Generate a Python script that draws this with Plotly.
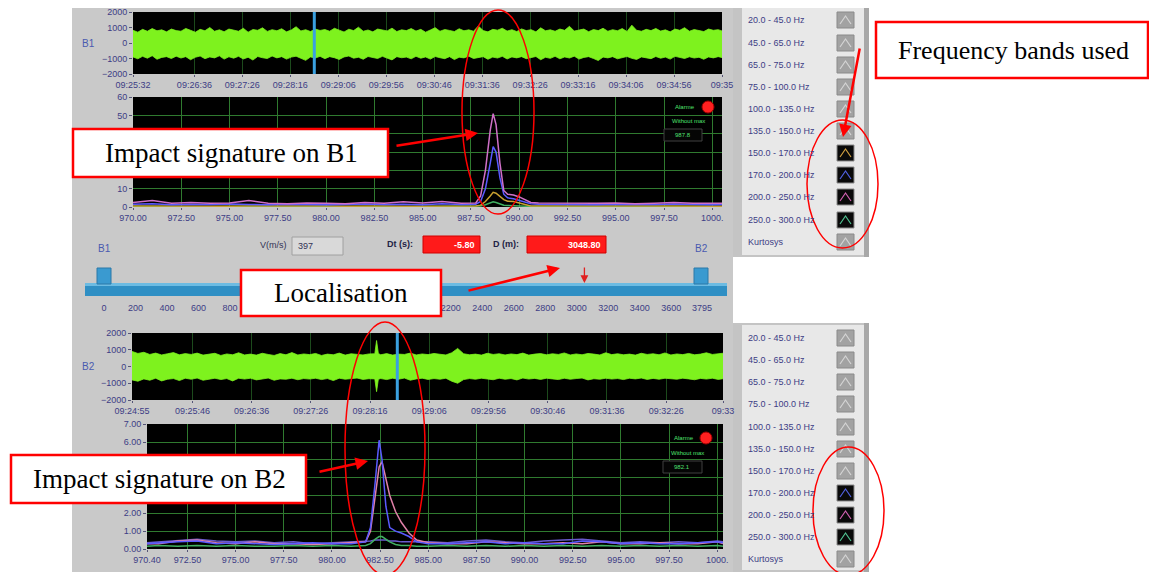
import plotly.graph_objects as go

# The page body adds an 8px offset; build the figure in reference pixel coordinates shifted by it.
OFF = 8
W, H = 1157 - OFF, 572 - OFF
def px(x): return (x - OFF) / W
def py(y): return 1 - (y - OFF) / H

# ---------------- data ----------------
# top waveform (B1) envelope, seconds from 09:25:32
top_t = [0, 5, 10, 15, 20, 25, 30, 35, 40, 45,
         50, 55, 60, 65, 70, 75, 80, 85, 90, 95,
         100, 105, 110, 115, 120, 125, 130, 135, 140, 145,
         150, 155, 160, 165, 170, 175, 180, 185, 190, 195,
         200, 205, 210, 215, 220, 225, 230, 235, 240, 245,
         250, 255, 260, 265, 270, 275, 280, 285, 290, 295,
         300, 305, 310, 315, 320, 325, 330, 335, 340, 345,
         350, 355, 360, 365, 370, 375, 380, 385, 390, 395,
         400, 405, 410, 415, 420, 425, 430, 435, 440, 445,
         450, 455, 460, 465, 470, 475, 480, 485, 490, 495,
         500, 505, 510, 515, 520, 525, 530, 535, 540, 545,
         550, 555, 560, 565, 570, 575, 580, 585, 590, 595,
         600, 605, 610, 614]
top_upper = [820, 700, 880, 760, 930, 790, 850, 720, 900, 800,
             760, 940, 820, 700, 880, 790, 1000, 760, 850, 730,
             900, 810, 760, 950, 700, 870, 820, 980, 750, 860,
             790, 920, 720, 840, 1050, 780, 860, 740, 900, 810,
             870, 760, 950, 830, 710, 890, 800, 1020, 760, 840,
             720, 900, 820, 780, 960, 740, 850, 800, 930, 770,
             880, 700, 840, 990, 760, 870, 810, 740, 920, 790,
             850, 760, 1100, 800, 720, 880, 830, 950, 770, 860,
             740, 910, 800, 860, 720, 980, 790, 850, 760, 900,
             820, 1080, 770, 840, 900, 730, 870, 800, 950, 760,
             860, 790, 930, 740, 1150, 820, 760, 880, 800, 940,
             770, 850, 720, 900, 820, 990, 760, 870, 810, 740,
             900, 820, 860, 780]
top_lower = [-900, -1020, -860, -980, -820, -1050, -930, -880, -1000, -850,
             -970, -880, -1080, -920, -840, -1010, -900, -960, -830, -1040,
             -890, -980, -860, -1030, -920, -1100, -870, -950, -1000, -840,
             -960, -880, -1040, -910, -850, -990, -1120, -900, -970, -860,
             -1010, -880, -950, -1060, -900, -840, -980, -920, -1050, -870,
             -930, -1000, -860, -970, -1090, -880, -950, -910, -1020, -860,
             -980, -900, -1040, -870, -950, -1010, -880, -1070, -920, -960,
             -850, -1000, -930, -880, -1050, -910, -970, -860, -1030, -900,
             -960, -880, -1010, -940, -870, -1080, -920, -990, -860, -1020,
             -900, -970, -850, -1040, -930, -880, -1000, -1130, -910, -960,
             -880, -1020, -940, -870, -990, -1060, -900, -950, -1010, -870,
             -980, -910, -1040, -860, -950, -1000, -890, -970, -920, -1050,
             -900, -960, -880, -940]
top_tick_t = [0, 64, 114, 164, 214, 264, 314, 364, 414, 464, 514, 564, 614]
top_tick_lbl = ["09:25:32", "09:26:36", "09:27:26", "09:28:16", "09:29:06", "09:29:56",
                "09:30:46", "09:31:36", "09:32:26", "09:33:16", "09:34:06", "09:34:56", "09:35"]
top_cursor_t = 189

# bottom waveform (B2) envelope, seconds from 09:24:55
bot_t = [0, 5, 10, 15, 20, 25, 30, 35, 40, 45,
         50, 55, 60, 65, 70, 75, 80, 85, 90, 95,
         100, 105, 110, 115, 120, 125, 130, 135, 140, 145,
         150, 155, 160, 165, 170, 175, 180, 185, 190, 195,
         200, 205, 206.5, 208,
         210, 215, 220, 225, 230, 235, 240, 245, 250, 255,
         260, 265, 270, 275, 280, 285, 290, 295, 300, 305,
         310, 315, 320, 325, 330, 335, 340, 345, 350, 355,
         360, 365, 370, 375, 380, 385, 390, 395, 400, 405,
         410, 415, 420, 425, 430, 435, 440, 445, 450, 455,
         460, 465, 470, 475, 480, 485, 490, 495, 500]
bot_upper = [900, 780, 850, 720, 800, 690, 760, 830, 700, 770,
             720, 800, 680, 740, 790, 660, 750, 700, 820, 690,
             740, 680, 790, 720, 660, 770, 700, 830, 690, 750,
             710, 780, 660, 740, 700, 800, 680, 760, 720, 690,
             750, 760, 1550, 780,
             700, 770, 680, 740, 720, 800, 690, 750, 710, 780,
             730, 690, 820, 1080, 760, 700, 740, 680, 790, 720,
             760, 690, 750, 710, 800, 680, 740, 770, 700, 760,
             720, 810, 690, 750, 700, 780, 740, 690, 820, 710,
             760, 700, 740, 680, 790, 720, 760, 700, 810, 690,
             750, 710, 780, 700, 740, 820, 720, 760, 800]
bot_lower = [-800, -880, -740, -820, -700, -860, -760, -720, -840, -700,
             -760, -690, -820, -740, -700, -780, -720, -860, -700, -750,
             -700, -800, -730, -690, -820, -740, -760, -700, -790, -720,
             -750, -700, -780, -720, -840, -700, -760, -730, -690, -770,
             -730, -740, -1500, -760,
             -720, -780, -700, -760, -690, -820, -740, -700, -770, -720,
             -760, -700, -880, -1000, -780, -720, -760, -700, -740, -790,
             -700, -760, -720, -800, -690, -750, -710, -770, -700, -740,
             -780, -700, -760, -720, -690, -800, -730, -760, -700, -750,
             -720, -780, -700, -740, -690, -770, -710, -760, -700, -730,
             -760, -700, -740, -790, -710, -750, -700, -770, -720]
bot_tick_t = [0, 51, 101, 151, 201, 251, 301, 351, 401, 451, 499]
bot_tick_lbl = ["09:24:55", "09:25:46", "09:26:36", "09:27:26", "09:28:16", "09:29:06",
                "09:29:56", "09:30:46", "09:31:36", "09:32:26", "09:33"]
bot_cursor_t = 224

# top spectrum (B1)
spec1_x = [970, 971, 972, 973, 974, 975, 976, 977, 978, 979, 980, 981, 982, 983, 984, 985, 986, 987,
           987.75, 988.0, 988.25, 988.5, 988.65, 988.8, 989.0, 989.2, 989.4, 989.7, 990.0, 990.3, 990.6,
           991, 992, 993, 994, 995, 996, 997, 998, 999, 1000, 1000.5]
spec1_mag = [2.5, 3.5, 2.0, 2.5, 2.0, 2.2, 3.5, 2.0, 1.8, 2.2, 2.0, 1.8, 2.5, 2.0, 2.8, 2.2, 3.0, 2.0,
             2.2, 6, 20, 42, 51, 45, 24, 9, 7, 6.5, 5.5, 4, 2.5,
             2.2, 2.0, 1.8, 2.0, 2.2, 1.8, 2.0, 2.4, 2.0, 1.8, 2.0]
spec1_blue = [1.5, 1.8, 1.2, 1.5, 1.3, 1.6, 1.4, 1.2, 1.5, 1.3, 1.2, 1.4, 1.6, 1.3, 1.5, 1.2, 1.8, 1.4,
              1.5, 3, 10, 24, 33, 30, 16, 7, 5, 4.5, 3.5, 2.5, 1.8,
              1.5, 1.3, 1.4, 1.2, 1.5, 1.3, 1.4, 1.6, 1.3, 1.2, 1.4]
spec1_orange = [0.6, 0.5, 0.4, 0.6, 0.5, 0.4, 0.5, 0.6, 0.4, 0.5, 0.5, 0.4, 0.6, 0.5, 0.4, 0.5, 0.6, 0.5,
                0.5, 1.0, 3, 6, 8, 7.5, 6, 4, 3.2, 3, 2.2, 1.2, 0.6,
                0.5, 0.4, 0.5, 0.6, 0.4, 0.5, 0.5, 0.4, 0.6, 0.5, 0.4]
spec1_green = [0.3, 0.2, 0.3, 0.3, 0.2, 0.3, 0.2, 0.3, 0.3, 0.2, 0.3, 0.2, 0.3, 0.3, 0.2, 0.3, 0.3, 0.2,
               0.3, 0.5, 1.2, 2.2, 2.8, 2.5, 1.8, 1.0, 0.8, 0.6, 0.5, 0.4, 0.3,
               0.3, 0.2, 0.3, 0.2, 0.3, 0.3, 0.2, 0.3, 0.2, 0.3, 0.3]
spec1_ticks = [970, 972.5, 975, 977.5, 980, 982.5, 985, 987.5, 990, 992.5, 995, 997.5, 1000]
spec1_lbl = ["970.00", "972.50", "975.00", "977.50", "980.00", "982.50", "985.00",
             "987.50", "990.00", "992.50", "995.00", "997.50", "1000."]
spec1_yticks = [0, 10, 20, 30, 40, 50, 60]
spec1_ylbl = ["0", "10", "", "", "", "50", "60"]   # 20-40 are hidden behind the annotation box

# bottom spectrum (B2)
spec2_x = [970.4, 971, 972, 973, 974, 975, 976, 977, 978, 979, 980, 981,
           981.75, 982.0, 982.25, 982.45, 982.6, 982.8, 983.0, 983.3, 983.6, 984.0, 984.4,
           985, 986, 987, 988, 989, 990, 991, 992, 993, 994, 995, 996, 997, 998, 999, 1000, 1000.3]
spec2_blue = [0.3, 0.35, 0.4, 0.45, 0.3, 0.35, 0.3, 0.25, 0.3, 0.35, 0.3, 0.3,
              0.4, 1.2, 3.8, 6.1, 5.0, 2.4, 1.2, 1.0, 0.9, 0.7, 0.4,
              0.3, 0.3, 0.35, 0.4, 0.3, 0.35, 0.3, 0.3, 0.45, 0.4, 0.3, 0.35, 0.3, 0.3, 0.35, 0.4, 0.35]
spec2_mag = [0.3, 0.3, 0.45, 0.5, 0.35, 0.3, 0.4, 0.3, 0.3, 0.25, 0.3, 0.35,
             0.4, 1.0, 3.0, 4.6, 4.9, 4.0, 3.0, 2.1, 1.5, 0.9, 0.5,
             0.35, 0.3, 0.3, 0.4, 0.35, 0.3, 0.3, 0.35, 0.3, 0.4, 0.3, 0.3, 0.35, 0.3, 0.3, 0.4, 0.3]
spec2_green = [0.15, 0.2, 0.15, 0.2, 0.15, 0.2, 0.15, 0.15, 0.2, 0.15, 0.2, 0.15,
               0.2, 0.3, 0.55, 0.7, 0.7, 0.55, 0.4, 0.25, 0.2, 0.2, 0.15,
               0.15, 0.2, 0.15, 0.2, 0.15, 0.2, 0.15, 0.2, 0.15, 0.2, 0.15, 0.2, 0.15, 0.2, 0.15, 0.2, 0.15]
spec2_purple = [0.35, 0.4, 0.5, 0.55, 0.45, 0.4, 0.45, 0.35, 0.4, 0.3, 0.35, 0.4,
                0.4, 0.45, 0.5, 0.5, 0.5, 0.5, 0.45, 0.45, 0.4, 0.4, 0.4,
                0.4, 0.35, 0.45, 0.5, 0.4, 0.35, 0.45, 0.5, 0.55, 0.45, 0.35, 0.4, 0.35, 0.4, 0.35, 0.45, 0.4]
spec2_ticks = [970.4, 972.5, 975, 977.5, 980, 982.5, 985, 987.5, 990, 992.5, 995, 997.5, 1000]
spec2_lbl = ["970.40", "972.50", "975.00", "977.50", "980.00", "982.50", "985.00",
             "987.50", "990.00", "992.50", "995.00", "997.50", "1000."]
spec2_yticks = [0, 1, 2, 3, 4, 5, 6, 7]
spec2_ylbl = ["0.00", "1.00", "2.00", "", "", "", "6.00", "7.00"]  # 3-5 hidden behind the box

# localisation slider (1000-2000 labels are hidden behind the "Localisation" box)
slider_ticks = [0, 200, 400, 600, 800, 1000, 1200, 1400, 1600, 1800, 2000, 2200,
                2400, 2600, 2800, 3000, 3200, 3400, 3600, 3795]
slider_lbl = ["0", "200", "400", "600", "800", "", "", "", "", "", "", "2200",
              "2400", "2600", "2800", "3000", "3200", "3400", "3600", "3795"]
slider_max = 3795
loc_d = 3048.8
speed = "397"
dt_txt = "-5.80"
d_txt = "3048.80"
alarm_top = "987.8"
alarm_bot = "982.1"

bands = ["20.0 - 45.0 Hz", "45.0 - 65.0 Hz", "65.0 - 75.0 Hz", "75.0 - 100.0 Hz",
         "100.0 - 135.0 Hz", "135.0 - 150.0 Hz", "150.0 - 170.0 Hz", "170.0 - 200.0 Hz",
         "200.0 - 250.0 Hz", "250.0 - 300.0 Hz", "Kurtosys"]
top_band_colors = [None, None, None, None, None, None, "#d0a040", "#5060e0", "#d060b0", "#50c090", None]
bot_band_colors = [None, None, None, None, None, None, None, "#5060e0", "#d060b0", "#50c090", None]

# ---------------- styling ----------------
TICKF = dict(family="Liberation Sans", size=9, color="#3d3d85")
GRID = "#2f7a2f"
WAVE = "#7ef21e"
C_MAG, C_BLUE, C_OR, C_GR, C_PUR = "#d070c8", "#5a5aff", "#c8a030", "#40b060", "#6a5acd"

fig = go.Figure()

def band(t, up, lo):
    n = min(len(t), len(up), len(lo))
    t, up, lo = t[:n], up[:n], lo[:n]
    return t + t[::-1], up + lo[::-1]

bx, by = band(top_t, top_upper, top_lower)
fig.add_trace(go.Scatter(x=bx, y=by, fill="toself", fillcolor=WAVE, line=dict(color=WAVE, width=0.8),
                         mode="lines", xaxis="x", yaxis="y", hoverinfo="skip", showlegend=False))
bx, by = band(bot_t, bot_upper, bot_lower)
fig.add_trace(go.Scatter(x=bx, y=by, fill="toself", fillcolor=WAVE, line=dict(color=WAVE, width=0.8),
                         mode="lines", xaxis="x4", yaxis="y4", hoverinfo="skip", showlegend=False))
for yv, c in [(spec1_green, C_GR), (spec1_orange, C_OR), (spec1_blue, C_BLUE), (spec1_mag, C_MAG)]:
    fig.add_trace(go.Scatter(x=spec1_x, y=yv, mode="lines", line=dict(color=c, width=1.5),
                             xaxis="x2", yaxis="y2", hoverinfo="skip", showlegend=False))
for yv, c in [(spec2_purple, C_PUR), (spec2_green, C_GR), (spec2_mag, "#e080a8"), (spec2_blue, C_BLUE)]:
    fig.add_trace(go.Scatter(x=spec2_x, y=yv, mode="lines", line=dict(color=c, width=1.5),
                             xaxis="x5", yaxis="y5", hoverinfo="skip", showlegend=False))
fig.add_trace(go.Scatter(x=[loc_d], y=[0.5], mode="markers", marker=dict(opacity=0),
                         xaxis="x3", yaxis="y3", hoverinfo="skip", showlegend=False))

shapes = []
def rect(x0, y0, x1, y1, fill, line=None, lw=0, layer="below"):
    shapes.append(dict(type="rect", xref="paper", yref="paper", x0=px(x0), x1=px(x1),
                       y0=py(y1), y1=py(y0), fillcolor=fill,
                       line=dict(color=line or fill, width=lw), layer=layer))

rect(72, 8, 733, 572, "#c9c9c9")
for (ya, yb) in [(6, 257), (323, 572)]:
    rect(733, ya, 869, yb, "#c4c4c4")
    rect(742, ya + 2, 864, yb - 2, "#e8e8e8")
    rect(864, ya, 869, yb, "#a8a8a8")
rect(133, 12, 722, 74, "black")
rect(133, 97, 722, 207, "black")
rect(132, 333, 723, 400, "black")
rect(147, 424, 723, 549, "black")

shapes.append(dict(type="line", xref="x", yref="y domain", x0=top_cursor_t, x1=top_cursor_t,
                   y0=0, y1=1, line=dict(color="#3aa0e0", width=3)))
shapes.append(dict(type="line", xref="x4", yref="y4 domain", x0=bot_cursor_t, x1=bot_cursor_t,
                   y0=0, y1=1, line=dict(color="#3aa0e0", width=3)))

rect(85, 283, 727, 296, "#2f8fc4")
rect(85, 283, 727, 286, "#6cbbe2")
rect(97, 268, 111, 284, "#3a9ad0", "#2a78a8", 1)
rect(694, 268, 708, 284, "#3a9ad0", "#2a78a8", 1)

rect(292, 237, 343, 255, "#d9d9d9", "#a0a0a0", 1)
rect(423, 236, 480, 253, "#ff1a1a", "#d00000", 1)
rect(527, 236, 606, 253, "#ff1a1a", "#d00000", 1)

for (cx, cy, bx0, by0, bx1, by1) in [(708, 107, 664, 129, 702, 141), (706, 438, 663, 461, 702, 473)]:
    shapes.append(dict(type="circle", xref="paper", yref="paper", x0=px(cx - 6), x1=px(cx + 6),
                       y0=py(cy + 6), y1=py(cy - 6), fillcolor="#ff2020", line=dict(color="#a00000", width=1)))
    rect(bx0, by0, bx1, by1, "#050505", "#404040", 1, layer="above")

def swatches(rows_y, colors):
    for yy, col in zip(rows_y, colors):
        fill = "#0a0a0a" if col else "#a2a2a2"
        chev = col if col else "#d4d4d4"
        rect(837, yy - 8, 854, yy + 8, fill, "#8a8a8a", 1, layer="above")
        shapes.append(dict(type="path", xref="paper", yref="paper",
                           path=f"M {px(840)},{py(yy + 4)} L {px(845.5)},{py(yy - 4)} L {px(851)},{py(yy + 4)}",
                           line=dict(color=chev, width=1.2)))

top_rows = [20, 43, 65, 87, 109, 131, 153, 175, 197, 220, 242]
bot_rows = [338, 360, 382, 404, 427, 449, 471, 493, 515, 537, 559]
swatches(top_rows, top_band_colors)
swatches(bot_rows, bot_band_colors)

RED = "#ff0000"
for (x0, y0, x1, y1) in [(73, 129, 388, 177), (241, 270, 441, 316), (876, 22, 1148, 78), (11, 455, 306, 503)]:
    rect(x0, y0, x1, y1, "white", RED, 2.5, layer="above")
for (x0, y0, x1, y1) in [(462, 10, 534, 214), (807, 120, 878, 248), (345, 322, 425, 575), (813, 447, 884, 575)]:
    shapes.append(dict(type="circle", xref="paper", yref="paper", x0=px(x0), x1=px(x1),
                       y0=py(y1), y1=py(y0), line=dict(color=RED, width=1.5), layer="above"))

ann = []
def text(x, y, s, size=9, color="#3d3d85", anchor="center", family="Liberation Sans", bold=False):
    ann.append(dict(x=px(x), y=py(y), xref="paper", yref="paper", text=f"<b>{s}</b>" if bold else s,
                    showarrow=False, xanchor=anchor, yanchor="middle",
                    font=dict(family=family, size=size, color=color)))

for yy, lab in zip(top_rows, bands):
    text(746, yy, lab, anchor="left")
for yy, lab in zip(bot_rows, bands):
    text(746, yy, lab, anchor="left")

text(88, 44, "B1", size=10, color="#4a5ab0")
text(88, 367, "B2", size=10, color="#4a5ab0")
text(104, 249, "B1", size=10, color="#4a5ab0")
text(701, 249, "B2", size=10, color="#4a5ab0")
text(273, 245, "V(m/s)", size=9, color="#333355")
text(296, 246, speed, size=9, color="#333355", anchor="left")
text(400, 244, "Dt (s):", size=9, color="#222244", bold=True)
text(477, 245, dt_txt, size=9, color="white", anchor="right", bold=True)
text(506, 244, "D (m):", size=9, color="#222244", bold=True)
text(603, 245, d_txt, size=9, color="white", anchor="right", bold=True)

GREENT = "#50e070"
text(685, 107, "Alarme", size=6, color=GREENT)
text(688, 121, "Without max", size=6, color=GREENT)
text(683, 135, alarm_top, size=6, color=GREENT)
text(684, 438, "Alarme", size=6, color=GREENT)
text(687, 453, "Without max", size=6, color=GREENT)
text(682, 467, alarm_bot, size=6, color=GREENT)

SERIF = "Liberation Serif"
text(231, 153, "Impact signature on B1", size=27, color="black", family=SERIF)
text(341, 293, "Localisation", size=27, color="black", family=SERIF)
text(1013, 50, "Frequency bands used", size=26, color="black", family=SERIF)
text(159, 479, "Impact signature on B2", size=27, color="black", family=SERIF)

def arrow(tx, ty, hx, hy, w=2.5, head=2, size=1.0):
    ann.append(dict(x=px(hx), y=py(hy), xref="paper", yref="paper", ax=tx - hx, ay=ty - hy,
                    axref="pixel", ayref="pixel", text="", showarrow=True, arrowhead=head,
                    arrowsize=size, arrowwidth=w, arrowcolor=RED, standoff=0, startstandoff=0))

arrow(395, 146, 478, 133)
arrow(467, 291, 560, 268)
arrow(860, 47, 843, 137)
arrow(318, 472, 368, 461)
ann.append(dict(x=loc_d, y=py(283), xref="x3", yref="paper", ax=0, ay=-17, text="", showarrow=True,
                arrowhead=2, arrowsize=1.2, arrowwidth=1.3, arrowcolor="#e02020", standoff=0))

common_x = dict(showline=False, zeroline=False, tickfont=TICKF, ticks="outside", ticklen=2,
                tickcolor="#555577", fixedrange=True, tickmode="array", automargin=False)
common_y = dict(showline=False, zeroline=False, tickfont=TICKF, ticks="outside", ticklen=3,
                tickcolor="#555577", fixedrange=True, tickmode="array", automargin=False,
                ticklabeloverflow="allow")

fig.update_layout(
    width=W, height=H, margin=dict(l=0, r=0, t=0, b=0, pad=0, autoexpand=False),
    paper_bgcolor="white", plot_bgcolor="rgba(0,0,0,0)", showlegend=False,
    xaxis=dict(domain=[px(133), px(722)], range=[0, 614], anchor="y", tickvals=top_tick_t,
               ticktext=top_tick_lbl, showgrid=True, gridcolor="#1c4a1c", **common_x),
    yaxis=dict(domain=[py(74), py(12)], range=[-2000, 2000.5], anchor="x",
               tickvals=[-2000, -1000, 0, 1000, 2000], showgrid=False, **common_y),
    xaxis2=dict(domain=[px(133), px(722)], range=[970, 1000.5], anchor="y2", tickvals=spec1_ticks,
                ticktext=spec1_lbl, showgrid=True, gridcolor=GRID, **common_x),
    yaxis2=dict(domain=[py(207), py(97)], range=[0, 60.05], anchor="x2",
                tickvals=spec1_yticks, ticktext=spec1_ylbl, showgrid=True, gridcolor=GRID, **common_y),
    xaxis3=dict(domain=[px(104), px(702)], range=[0, slider_max], anchor="y3", tickvals=slider_ticks,
                ticktext=slider_lbl, showgrid=False, showline=False, zeroline=False,
                ticks="", tickfont=TICKF, fixedrange=True, automargin=False),
    yaxis3=dict(domain=[py(301), py(298)], range=[0, 1], anchor="x3", visible=False, fixedrange=True,
                automargin=False),
    xaxis4=dict(domain=[px(132), px(723)], range=[0, 499], anchor="y4", tickvals=bot_tick_t,
                ticktext=bot_tick_lbl, showgrid=True, gridcolor="#1c4a1c", **common_x),
    yaxis4=dict(domain=[py(400), py(333)], range=[-2000, 2000.5], anchor="x4",
                tickvals=[-2000, -1000, 0, 1000, 2000], showgrid=False, **common_y),
    xaxis5=dict(domain=[px(147), px(723)], range=[970.4, 1000.3], anchor="y5", tickvals=spec2_ticks,
                ticktext=spec2_lbl, showgrid=True, gridcolor=GRID, **common_x),
    yaxis5=dict(domain=[py(549), py(424)], range=[0, 7.01], anchor="x5",
                tickvals=spec2_yticks, ticktext=spec2_ylbl, showgrid=True, gridcolor=GRID, **common_y),
    shapes=shapes, annotations=ann,
)

fig.write_html("out.html")
